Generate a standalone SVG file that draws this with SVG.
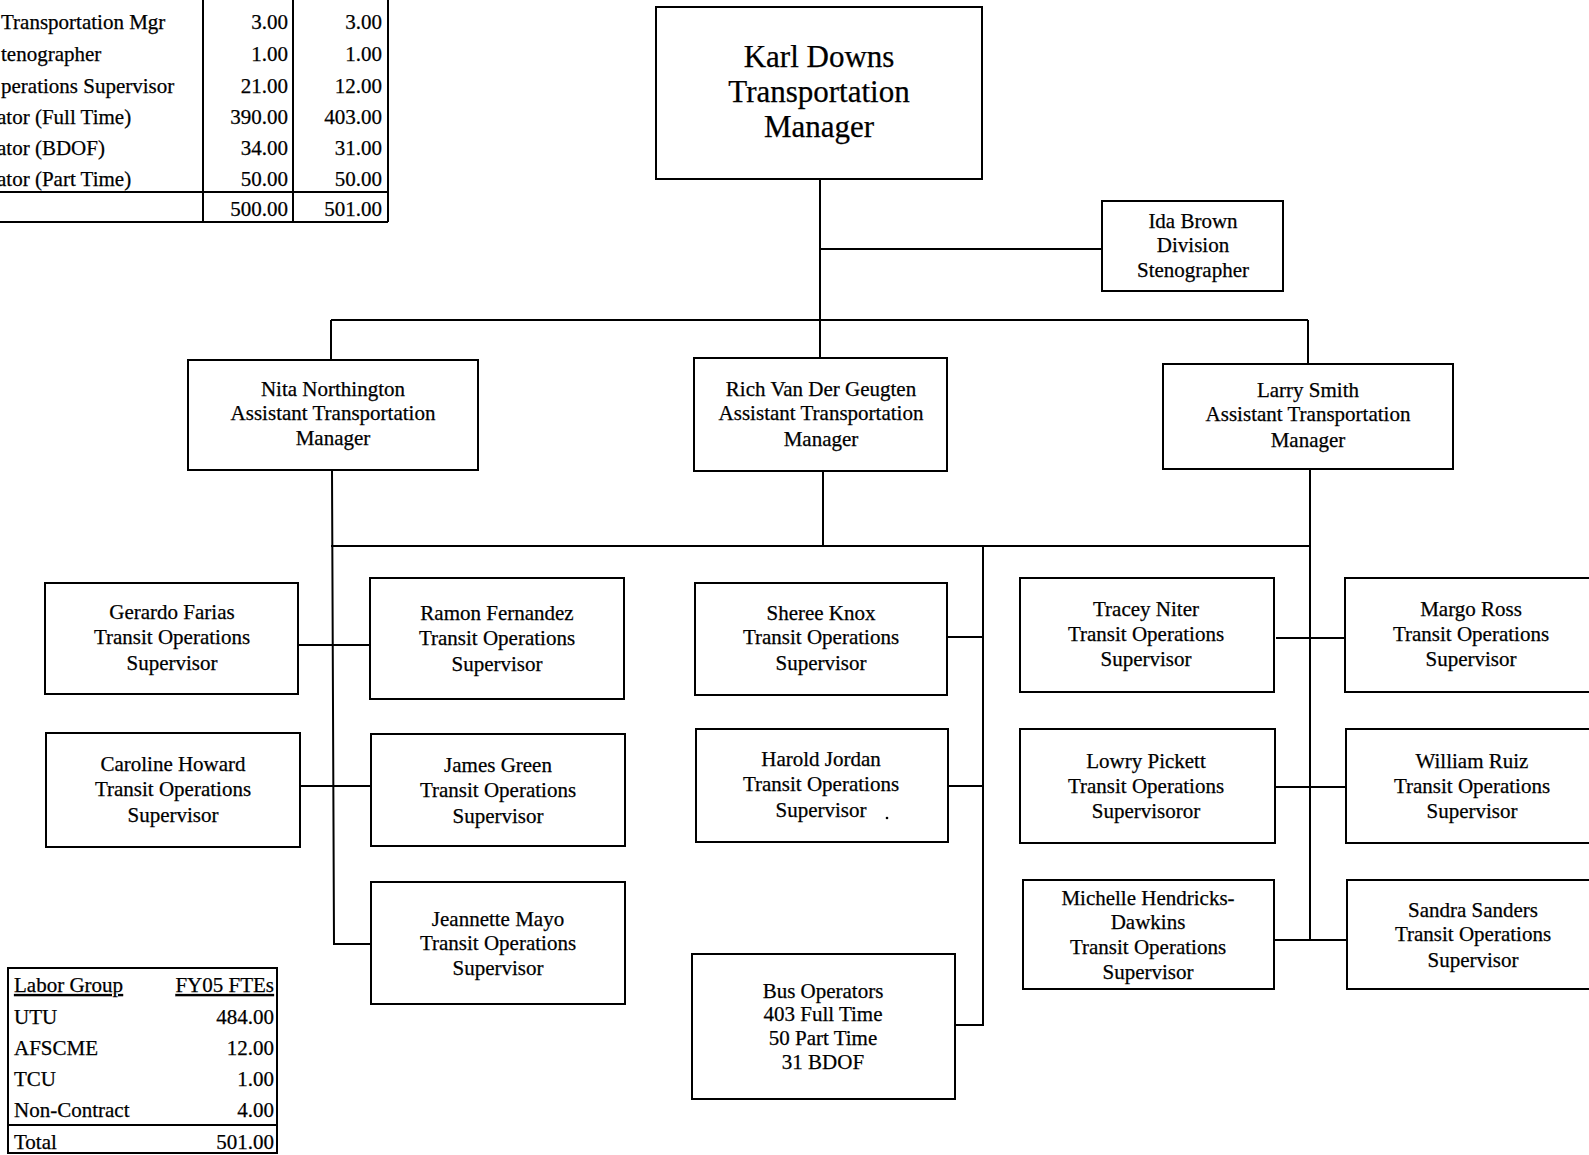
<svg xmlns="http://www.w3.org/2000/svg" width="1589" height="1155" viewBox="0 0 1589 1155">
<style>
text{font-family:"Liberation Serif","Times New Roman",serif;fill:#000;font-size:21px;stroke:#000;stroke-width:0.25}
.c{text-anchor:middle}
.r{text-anchor:end}
.big{font-size:31px}
.u{text-decoration:underline}
rect.box{fill:#fff;stroke:#000;stroke-width:2}
.ln{stroke:#000;stroke-width:2;fill:none}
</style>
<rect width="1589" height="1155" fill="#fff"/>
<g id="fte-table">
<path class="ln" d="M203 0V222M293 0V222M388 0V222M0 192H388M0 222H388"/>
<text x="1" y="29">Transportation Mgr</text><text class="r" x="288" y="29">3.00</text><text class="r" x="382" y="29">3.00</text>
<text x="1" y="61">tenographer</text><text class="r" x="288" y="61">1.00</text><text class="r" x="382" y="61">1.00</text>
<text x="1" y="93">perations Supervisor</text><text class="r" x="288" y="93">21.00</text><text class="r" x="382" y="93">12.00</text>
<text x="-3" y="124">ator (Full Time)</text><text class="r" x="288" y="124">390.00</text><text class="r" x="382" y="124">403.00</text>
<text x="-3" y="155">ator (BDOF)</text><text class="r" x="288" y="155">34.00</text><text class="r" x="382" y="155">31.00</text>
<text x="-3" y="186">ator (Part Time)</text><text class="r" x="288" y="186">50.00</text><text class="r" x="382" y="186">50.00</text>
<text class="r" x="288" y="216">500.00</text><text class="r" x="382" y="216">501.00</text>
</g>
<g id="labor-table">
<rect x="8" y="968" width="269" height="185" fill="none" stroke="#000" stroke-width="2"/>
<path class="ln" d="M8 1125H277"/>
<text class="u" x="14" y="992">Labor Group</text><text class="r u" x="274" y="992">FY05 FTEs</text>
<text x="14" y="1024">UTU</text><text class="r" x="274" y="1024">484.00</text>
<text x="14" y="1055">AFSCME</text><text class="r" x="274" y="1055">12.00</text>
<text x="14" y="1086">TCU</text><text class="r" x="274" y="1086">1.00</text>
<text x="14" y="1117">Non-Contract</text><text class="r" x="274" y="1117">4.00</text>
<text x="14" y="1149">Total</text><text class="r" x="274" y="1149">501.00</text>
</g>
<g id="connectors">
<path class="ln" d="M820 179V358M820 249H1102M331 320H1308M331 320V360M1308 320V364"/>
<path class="ln" d="M823 471V546M331 546H1310M332 470L334 944H371M1310 469V940M983 546V1025H955"/>
<path class="ln" d="M298 645H370M295 786H371M947 637H983M948 786H983"/>
<path class="ln" d="M1276 638H1345M1275 787H1346M1274 940H1347"/>
</g>
<g id="karl"><rect class="box" x="656" y="7" width="326" height="172"/>
<text class="c big" x="819" y="67">Karl Downs</text><text class="c big" x="819" y="102">Transportation</text><text class="c big" x="819" y="137">Manager</text></g>
<g id="ida"><rect class="box" x="1102" y="201" width="181" height="90"/>
<text class="c" x="1193" y="228">Ida Brown</text><text class="c" x="1193" y="252">Division</text><text class="c" x="1193" y="277">Stenographer</text></g>
<g id="nita"><rect class="box" x="188" y="360" width="290" height="110"/>
<text class="c" x="333" y="396">Nita Northington</text><text class="c" x="333" y="420">Assistant Transportation</text><text class="c" x="333" y="445">Manager</text></g>
<g id="rich"><rect class="box" x="694" y="358" width="253" height="113"/>
<text class="c" x="821" y="396">Rich Van Der Geugten</text><text class="c" x="821" y="420">Assistant Transportation</text><text class="c" x="821" y="446">Manager</text></g>
<g id="larry"><rect class="box" x="1163" y="364" width="290" height="105"/>
<text class="c" x="1308" y="397">Larry Smith</text><text class="c" x="1308" y="421">Assistant Transportation</text><text class="c" x="1308" y="447">Manager</text></g>
<g id="gerardo"><rect class="box" x="45" y="583" width="253" height="111"/>
<text class="c" x="172" y="619">Gerardo Farias</text><text class="c" x="172" y="644">Transit Operations</text><text class="c" x="172" y="670">Supervisor</text></g>
<g id="ramon"><rect class="box" x="370" y="578" width="254" height="121"/>
<text class="c" x="497" y="620">Ramon Fernandez</text><text class="c" x="497" y="645">Transit Operations</text><text class="c" x="497" y="671">Supervisor</text></g>
<g id="caroline"><rect class="box" x="46" y="733" width="254" height="114"/>
<text class="c" x="173" y="771">Caroline Howard</text><text class="c" x="173" y="796">Transit Operations</text><text class="c" x="173" y="822">Supervisor</text></g>
<g id="james"><rect class="box" x="371" y="734" width="254" height="112"/>
<text class="c" x="498" y="772">James Green</text><text class="c" x="498" y="797">Transit Operations</text><text class="c" x="498" y="823">Supervisor</text></g>
<g id="jeannette"><rect class="box" x="371" y="882" width="254" height="122"/>
<text class="c" x="498" y="926">Jeannette Mayo</text><text class="c" x="498" y="950">Transit Operations</text><text class="c" x="498" y="975">Supervisor</text></g>
<g id="sheree"><rect class="box" x="695" y="583" width="252" height="112"/>
<text class="c" x="821" y="620">Sheree Knox</text><text class="c" x="821" y="644">Transit Operations</text><text class="c" x="821" y="670">Supervisor</text></g>
<g id="harold"><rect class="box" x="696" y="729" width="252" height="113"/>
<text class="c" x="821" y="766">Harold Jordan</text><text class="c" x="821" y="791">Transit Operations</text><text class="c" x="821" y="817">Supervisor</text>
<circle cx="887" cy="818" r="1.3" fill="#000"/></g>
<g id="bus"><rect class="box" x="692" y="954" width="263" height="145"/>
<text class="c" x="823" y="998">Bus Operators</text><text class="c" x="823" y="1021">403 Full Time</text><text class="c" x="823" y="1045">50 Part Time</text><text class="c" x="823" y="1069">31 BDOF</text></g>
<g id="tracey"><rect class="box" x="1020" y="578" width="254" height="114"/>
<text class="c" x="1146" y="616">Tracey Niter</text><text class="c" x="1146" y="641">Transit Operations</text><text class="c" x="1146" y="666">Supervisor</text></g>
<g id="lowry"><rect class="box" x="1020" y="729" width="255" height="114"/>
<text class="c" x="1146" y="768">Lowry Pickett</text><text class="c" x="1146" y="793">Transit Operations</text><text class="c" x="1146" y="818">Supervisoror</text></g>
<g id="michelle"><rect class="box" x="1023" y="880" width="251" height="109"/>
<text class="c" x="1148" y="905">Michelle Hendricks-</text><text class="c" x="1148" y="929">Dawkins</text><text class="c" x="1148" y="954">Transit Operations</text><text class="c" x="1148" y="979">Supervisor</text></g>
<g id="margo"><rect class="box" x="1345" y="578" width="254" height="114"/>
<text class="c" x="1471" y="616">Margo Ross</text><text class="c" x="1471" y="641">Transit Operations</text><text class="c" x="1471" y="666">Supervisor</text></g>
<g id="william"><rect class="box" x="1346" y="729" width="254" height="114"/>
<text class="c" x="1472" y="768">William Ruiz</text><text class="c" x="1472" y="793">Transit Operations</text><text class="c" x="1472" y="818">Supervisor</text></g>
<g id="sandra"><rect class="box" x="1347" y="880" width="254" height="109"/>
<text class="c" x="1473" y="917">Sandra Sanders</text><text class="c" x="1473" y="941">Transit Operations</text><text class="c" x="1473" y="967">Supervisor</text></g>
</svg>
